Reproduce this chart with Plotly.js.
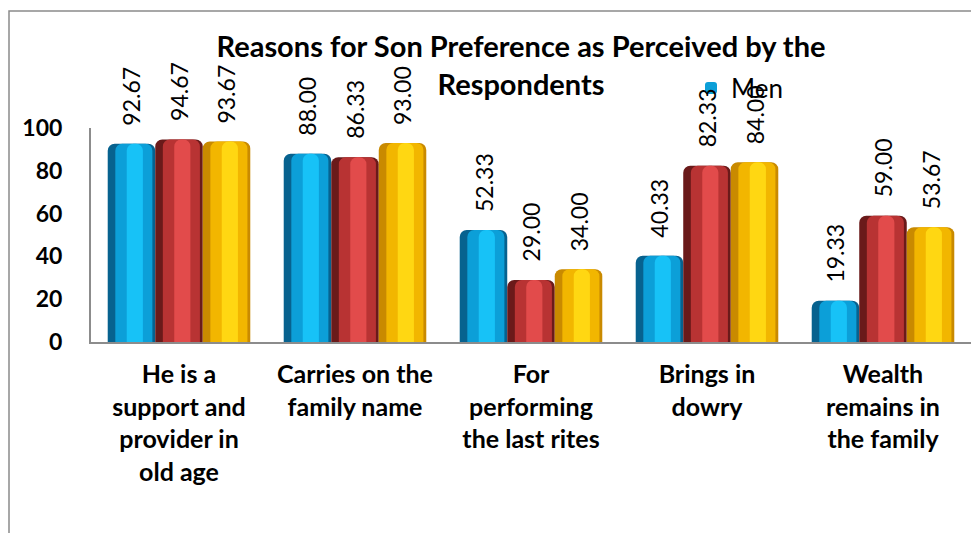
<!DOCTYPE html>
<html>
<head>
<meta charset="utf-8">
<script src="https://cdn.plot.ly/plotly-3.0.1.min.js"></script>
<style>
html,body{margin:0;padding:0;background:#fff;}
#chart{width:971px;height:533px;}
</style>
</head>
<body>
<div id="chart"></div>
<script>
// ---- data ----
var categories = [
  "He is a<br>support and<br>provider in<br>old age",
  "Carries on the<br>family name",
  "For<br>performing<br>the last rites",
  "Brings in<br>dowry",
  "Wealth<br>remains in<br>the family"
];
var seriesNames = ["Men", "Women", "Total"];
var menValues   = [92.67, 88.00, 52.33, 40.33, 19.33];
var womenValues = [94.67, 86.33, 29.00, 82.33, 59.00];
var totalValues = [93.67, 93.00, 34.00, 84.00, 53.67];
var yTickVals = [0, 20, 40, 60, 80, 100];

var seriesValues = [menValues, womenValues, totalValues];
// cylinder shading colours: [edge dark, body, highlight]
var shades = [
  ["#07628f", "#0c9fd8", "#17c2f7"],
  ["#6a1a1a", "#b83333", "#e24b4b"],
  ["#c98a00", "#f2b600", "#ffd712"]
];
// layer geometry as fraction of a single bar's width: [width, offset]
var layers = [[1.0, 0.0], [0.78, 0.16], [0.34, 0.40]];

var groupWidth = 0.81;
var w = groupWidth / 3;
var traces = [];
for (var j = 0; j < 3; j++) {
  for (var L = 0; L < layers.length; L++) {
    traces.push({
      type: 'bar',
      name: seriesNames[j],
      x: categories,
      y: seriesValues[j],
      width: w * layers[L][0],
      offset: -groupWidth / 2 + j * w + w * layers[L][1],
      marker: {color: shades[j][L], cornerradius: 7, line: {width: 0}},
      showlegend: (j === 0 && L === 1),
      hoverinfo: 'x+y'
    });
  }
}

var annotations = [];
for (var j2 = 0; j2 < 3; j2++) {
  for (var i = 0; i < categories.length; i++) {
    annotations.push({
      x: i + (j2 - 1) * w,
      y: seriesValues[j2][i],
      xref: 'x', yref: 'y',
      text: seriesValues[j2][i].toFixed(2),
      showarrow: false,
      textangle: -90,
      xanchor: 'center',
      yanchor: 'bottom',
      yshift: 16,
      font: {family: 'Lato, "Open Sans", sans-serif', size: 23, color: '#000'}
    });
  }
}

var layout = {
  width: 971, height: 533,
  paper_bgcolor: '#fff', plot_bgcolor: '#fff',
  margin: {l: 91, r: 0, t: 128, b: 191, pad: 0},
  barmode: 'overlay',
  title: {
    text: 'Reasons for Son Preference as Perceived by the<br>Respondents',
    x: 521 / 971, xref: 'container', xanchor: 'center',
    y: 1 - 57 / 533, yref: 'container', yanchor: 'top',
    font: {family: 'Lato, "Open Sans", sans-serif', size: 29, color: '#000', weight: 'bold'}
  },
  xaxis: {
    type: 'category',
    showline: true, linecolor: '#8c8c8c', linewidth: 2,
    showgrid: false, zeroline: false, ticks: '',
    ticklabelstandoff: 9,
    tickfont: {family: 'Lato, "Open Sans", sans-serif', size: 25, color: '#000', weight: 'bold'}
  },
  yaxis: {
    range: [0, 100], tickvals: yTickVals,
    showline: true, linecolor: '#8c8c8c', linewidth: 2,
    showgrid: false, zeroline: false, ticks: '',
    ticklabelstandoff: 22,
    tickfont: {family: 'Lato, "Open Sans", sans-serif', size: 23, color: '#000', weight: 'bold'}
  },
  showlegend: true,
  legend: {
    x: (691 - 91) / 880, xanchor: 'left',
    y: (342 - 88) / 214, yanchor: 'middle',
    bgcolor: 'rgba(0,0,0,0)',
    font: {family: 'Lato, "Open Sans", sans-serif', size: 26, color: '#000'}
  },
  annotations: annotations,
  shapes: [{
    type: 'rect', xref: 'paper', yref: 'paper',
    x0: (9 - 91) / 880, x1: 1.05,
    y0: -1.0, y1: (342 - 11) / 214,
    line: {color: '#8a8a8a', width: 1.5},
    fillcolor: 'rgba(0,0,0,0)', layer: 'below'
  }]
};

Plotly.newPlot('chart', traces, layout, {displayModeBar: false, staticPlot: true});
</script>
</body>
</html>
